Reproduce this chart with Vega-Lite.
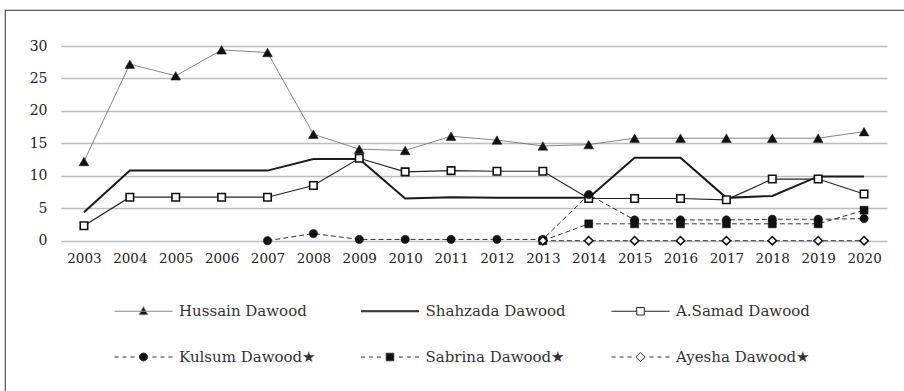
{
  "$schema": "https://vega.github.io/schema/vega-lite/v6.json",
  "width": 899,
  "height": 381,
  "autosize": {"type": "none"},
  "padding": {"left": 5, "top": 10, "right": 0, "bottom": 0},
  "background": "white",
  "config": {
    "font": "DejaVu Serif",
    "view": {"stroke": "#555", "strokeWidth": 1.2, "strokeDash": [899, 1280, 381]}
  },
  "datasets": {
    "shares": [
      {"series": "Hussain Dawood", "year": 2003, "value": 12.2},
      {"series": "Hussain Dawood", "year": 2004, "value": 27.2},
      {"series": "Hussain Dawood", "year": 2005, "value": 25.4},
      {"series": "Hussain Dawood", "year": 2006, "value": 29.4},
      {"series": "Hussain Dawood", "year": 2007, "value": 29.0},
      {"series": "Hussain Dawood", "year": 2008, "value": 16.4},
      {"series": "Hussain Dawood", "year": 2009, "value": 14.1},
      {"series": "Hussain Dawood", "year": 2010, "value": 13.9},
      {"series": "Hussain Dawood", "year": 2011, "value": 16.1},
      {"series": "Hussain Dawood", "year": 2012, "value": 15.5},
      {"series": "Hussain Dawood", "year": 2013, "value": 14.6},
      {"series": "Hussain Dawood", "year": 2014, "value": 14.8},
      {"series": "Hussain Dawood", "year": 2015, "value": 15.8},
      {"series": "Hussain Dawood", "year": 2016, "value": 15.8},
      {"series": "Hussain Dawood", "year": 2017, "value": 15.8},
      {"series": "Hussain Dawood", "year": 2018, "value": 15.8},
      {"series": "Hussain Dawood", "year": 2019, "value": 15.8},
      {"series": "Hussain Dawood", "year": 2020, "value": 16.8},
      {"series": "Shahzada Dawood", "year": 2003, "value": 4.4},
      {"series": "Shahzada Dawood", "year": 2004, "value": 10.8},
      {"series": "Shahzada Dawood", "year": 2005, "value": 10.8},
      {"series": "Shahzada Dawood", "year": 2006, "value": 10.8},
      {"series": "Shahzada Dawood", "year": 2007, "value": 10.8},
      {"series": "Shahzada Dawood", "year": 2008, "value": 12.6},
      {"series": "Shahzada Dawood", "year": 2009, "value": 12.6},
      {"series": "Shahzada Dawood", "year": 2010, "value": 6.5},
      {"series": "Shahzada Dawood", "year": 2011, "value": 6.7},
      {"series": "Shahzada Dawood", "year": 2012, "value": 6.6},
      {"series": "Shahzada Dawood", "year": 2013, "value": 6.6},
      {"series": "Shahzada Dawood", "year": 2014, "value": 6.6},
      {"series": "Shahzada Dawood", "year": 2015, "value": 12.8},
      {"series": "Shahzada Dawood", "year": 2016, "value": 12.8},
      {"series": "Shahzada Dawood", "year": 2017, "value": 6.6},
      {"series": "Shahzada Dawood", "year": 2018, "value": 6.9},
      {"series": "Shahzada Dawood", "year": 2019, "value": 9.9},
      {"series": "Shahzada Dawood", "year": 2020, "value": 9.9},
      {"series": "A.Samad Dawood", "year": 2003, "value": 2.3},
      {"series": "A.Samad Dawood", "year": 2004, "value": 6.7},
      {"series": "A.Samad Dawood", "year": 2005, "value": 6.7},
      {"series": "A.Samad Dawood", "year": 2006, "value": 6.7},
      {"series": "A.Samad Dawood", "year": 2007, "value": 6.7},
      {"series": "A.Samad Dawood", "year": 2008, "value": 8.5},
      {"series": "A.Samad Dawood", "year": 2009, "value": 12.7},
      {"series": "A.Samad Dawood", "year": 2010, "value": 10.6},
      {"series": "A.Samad Dawood", "year": 2011, "value": 10.8},
      {"series": "A.Samad Dawood", "year": 2012, "value": 10.7},
      {"series": "A.Samad Dawood", "year": 2013, "value": 10.7},
      {"series": "A.Samad Dawood", "year": 2014, "value": 6.5},
      {"series": "A.Samad Dawood", "year": 2015, "value": 6.5},
      {"series": "A.Samad Dawood", "year": 2016, "value": 6.5},
      {"series": "A.Samad Dawood", "year": 2017, "value": 6.3},
      {"series": "A.Samad Dawood", "year": 2018, "value": 9.5},
      {"series": "A.Samad Dawood", "year": 2019, "value": 9.5},
      {"series": "A.Samad Dawood", "year": 2020, "value": 7.2},
      {"series": "Kulsum Dawood★", "year": 2007, "value": 0},
      {"series": "Kulsum Dawood★", "year": 2008, "value": 1.1},
      {"series": "Kulsum Dawood★", "year": 2009, "value": 0.2},
      {"series": "Kulsum Dawood★", "year": 2010, "value": 0.2},
      {"series": "Kulsum Dawood★", "year": 2011, "value": 0.2},
      {"series": "Kulsum Dawood★", "year": 2012, "value": 0.2},
      {"series": "Kulsum Dawood★", "year": 2013, "value": 0.2},
      {"series": "Kulsum Dawood★", "year": 2014, "value": 7.1},
      {"series": "Kulsum Dawood★", "year": 2015, "value": 3.2},
      {"series": "Kulsum Dawood★", "year": 2016, "value": 3.2},
      {"series": "Kulsum Dawood★", "year": 2017, "value": 3.2},
      {"series": "Kulsum Dawood★", "year": 2018, "value": 3.3},
      {"series": "Kulsum Dawood★", "year": 2019, "value": 3.3},
      {"series": "Kulsum Dawood★", "year": 2020, "value": 3.4},
      {"series": "Sabrina Dawood★", "year": 2013, "value": 0},
      {"series": "Sabrina Dawood★", "year": 2014, "value": 2.6},
      {"series": "Sabrina Dawood★", "year": 2015, "value": 2.6},
      {"series": "Sabrina Dawood★", "year": 2016, "value": 2.6},
      {"series": "Sabrina Dawood★", "year": 2017, "value": 2.6},
      {"series": "Sabrina Dawood★", "year": 2018, "value": 2.6},
      {"series": "Sabrina Dawood★", "year": 2019, "value": 2.6},
      {"series": "Sabrina Dawood★", "year": 2020, "value": 4.7},
      {"series": "Ayesha Dawood★", "year": 2013, "value": 0},
      {"series": "Ayesha Dawood★", "year": 2014, "value": 0},
      {"series": "Ayesha Dawood★", "year": 2015, "value": 0},
      {"series": "Ayesha Dawood★", "year": 2016, "value": 0},
      {"series": "Ayesha Dawood★", "year": 2017, "value": 0},
      {"series": "Ayesha Dawood★", "year": 2018, "value": 0},
      {"series": "Ayesha Dawood★", "year": 2019, "value": 0},
      {"series": "Ayesha Dawood★", "year": 2020, "value": 0}
    ]
  },
  "data": {"name": "shares"},
  "encoding": {
    "x": {
      "field": "year",
      "type": "ordinal",
      "scale": {"type": "point", "range": [56, 882], "padding": 0.5},
      "axis": {
        "title": null,
        "orient": "bottom",
        "offset": -150.3,
        "domain": false,
        "ticks": false,
        "tickSize": 0,
        "grid": false,
        "labelAngle": 0,
        "labelPadding": 11,
        "labelFont": "DejaVu Serif",
        "labelFontSize": 13.5,
        "labelColor": "#222"
      }
    },
    "y": {
      "field": "value",
      "type": "quantitative",
      "scale": {"domain": [0, 30], "range": [230.7, 36], "nice": false},
      "axis": {
        "title": null,
        "orient": "left",
        "offset": -56,
        "values": [0, 5, 10, 15, 20, 25, 30],
        "domain": false,
        "ticks": false,
        "tickSize": 0,
        "grid": true,
        "gridColor": "#bdbdbd",
        "gridWidth": 1.3,
        "labelPadding": 14,
        "labelFont": "DejaVu Serif",
        "labelFontSize": 14,
        "labelColor": "#222"
      }
    }
  },
  "layer": [
    {
      "transform": [{"filter": "datum.series === 'Hussain Dawood'"}],
      "mark": {"type": "line", "color": "#777", "strokeWidth": 0.9}
    },
    {
      "transform": [{"filter": "datum.series === 'Shahzada Dawood'"}],
      "mark": {"type": "line", "color": "#1a1a1a", "strokeWidth": 2}
    },
    {
      "transform": [{"filter": "datum.series === 'A.Samad Dawood'"}],
      "mark": {"type": "line", "color": "#222", "strokeWidth": 1.2}
    },
    {
      "transform": [{"filter": {"field": "series", "oneOf": ["Kulsum Dawood★", "Sabrina Dawood★", "Ayesha Dawood★"]}}],
      "mark": {"type": "line", "color": "#333", "strokeWidth": 1, "strokeDash": [5, 3]},
      "encoding": {"detail": {"field": "series", "type": "nominal"}}
    },
    {
      "transform": [{"filter": "datum.series === 'Hussain Dawood'"}],
      "mark": {"type": "point", "shape": "triangle-up", "filled": true, "fill": "#111", "stroke": "#111", "strokeWidth": 0.5, "size": 95, "opacity": 1}
    },
    {
      "transform": [{"filter": "datum.series === 'A.Samad Dawood'"}],
      "mark": {"type": "point", "shape": "square", "filled": true, "fill": "white", "stroke": "#111", "strokeWidth": 1.6, "size": 56, "opacity": 1}
    },
    {
      "transform": [{"filter": "datum.series === 'Kulsum Dawood★'"}],
      "mark": {"type": "point", "shape": "circle", "filled": true, "fill": "#111", "stroke": "#111", "strokeWidth": 0.5, "size": 70, "opacity": 1}
    },
    {
      "transform": [{"filter": "datum.series === 'Sabrina Dawood★'"}],
      "mark": {"type": "point", "shape": "square", "filled": true, "fill": "#111", "stroke": "#111", "strokeWidth": 0.5, "size": 64, "opacity": 1}
    },
    {
      "transform": [{"filter": "datum.series === 'Ayesha Dawood★'"}],
      "mark": {"type": "point", "shape": "diamond", "filled": true, "fill": "white", "stroke": "#111", "strokeWidth": 1.6, "size": 70, "opacity": 1}
    },
    {
      "transform": [{"filter": "false"}],
      "mark": {"type": "point", "filled": true, "opacity": 1, "strokeWidth": 1},
      "encoding": {
        "x": null,
        "y": null,
        "shape": {
          "field": "series",
          "type": "nominal",
          "scale": {
            "domain": ["Hussain Dawood", "Shahzada Dawood", "A.Samad Dawood", "Kulsum Dawood★", "Sabrina Dawood★", "Ayesha Dawood★"],
            "range": [
              "M-1,0H1M0,-0.16L0.15,0.12L-0.15,0.12Z",
              "M-1,-0.017H1M-1,0.017H1",
              "M-1,0H-0.13M0.13,0H1M-0.13,-0.13H0.13V0.13H-0.13Z",
              "M-1,0H-0.86M-0.72,0H-0.59M-0.45,0H-0.31M0.31,0H0.45M0.59,0H0.72M0.86,0H1M0.14,0L0.121,0.07L0.07,0.121L0,0.14L-0.07,0.121L-0.121,0.07L-0.14,0L-0.121,-0.07L-0.07,-0.121L0,-0.14L0.07,-0.121L0.121,-0.07Z",
              "M-1,0H-0.86M-0.72,0H-0.59M-0.45,0H-0.31M0.31,0H0.45M0.59,0H0.72M0.86,0H1M-0.13,-0.13H0.13V0.13H-0.13Z",
              "M-1,0H-0.86M-0.72,0H-0.59M-0.45,0H-0.31M0.31,0H0.45M0.59,0H0.72M0.86,0H1M0,-0.16L0.16,0L0,0.16L-0.16,0Z"
            ]
          },
          "legend": {
            "title": null,
            "orient": "none",
            "legendX": 109,
            "legendY": 271.5,
            "direction": "horizontal",
            "columns": 3,
            "columnPadding": 42.5,
            "rowPadding": 8,
            "padding": 0,
            "symbolSize": 3364,
            "symbolStrokeWidth": 1,
            "symbolOpacity": 1,
            "labelOffset": 6,
            "labelFont": "DejaVu Serif",
            "labelFontSize": 15,
            "labelColor": "#333",
            "labelLimit": 400
          }
        },
        "fill": {
          "field": "series",
          "type": "nominal",
          "scale": {
            "domain": ["Hussain Dawood", "Shahzada Dawood", "A.Samad Dawood", "Kulsum Dawood★", "Sabrina Dawood★", "Ayesha Dawood★"],
            "range": ["#111", "#111", "white", "#111", "#111", "white"]
          },
          "legend": {"title": null}
        },
        "stroke": {
          "field": "series",
          "type": "nominal",
          "scale": {
            "domain": ["Hussain Dawood", "Shahzada Dawood", "A.Samad Dawood", "Kulsum Dawood★", "Sabrina Dawood★", "Ayesha Dawood★"],
            "range": ["#888", "#111", "#222", "#333", "#333", "#333"]
          },
          "legend": {"title": null}
        }
      }
    }
  ],
  "resolve": {
    "scale": {"shape": "independent", "fill": "independent", "stroke": "independent"},
    "legend": {"shape": "independent", "fill": "independent", "stroke": "independent"}
  }
}
